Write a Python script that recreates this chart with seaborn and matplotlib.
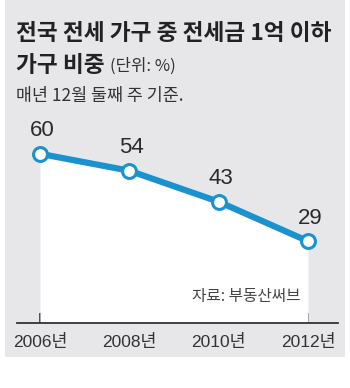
import matplotlib
matplotlib.use("Agg")
import matplotlib.pyplot as plt
import seaborn as sns
import pandas as pd
from matplotlib.patches import Rectangle

years = [2006, 2008, 2010, 2012]
share = [60, 54, 43, 29]
tick_labels = ["2006년", "2008년", "2010년", "2012년"]
title1 = "전국 전세 가구 중 전세금 1억 이하"
title2 = "가구 비중"
unit = "(단위: %)"
subtitle = "매년 12월 둘째 주 기준."
source = "자료: 부동산써브"

sns.set_theme(style="white")
KR = "Noto Sans CJK KR"
NARROW = ["Liberation Sans", KR, "DejaVu Sans"]
plt.rcParams["font.family"] = [KR, "DejaVu Sans"]

W, H = 350, 388
fig = plt.figure(figsize=(W / 100, H / 100), dpi=100, facecolor="white")

gray = "#e7e7e9"
blue = "#1a92cf"
dark = "#2a2a2a"

fig.patches.append(Rectangle((5 / W, (H - 357) / H), 340 / W, 357 / H,
                             transform=fig.transFigure, facecolor=gray,
                             edgecolor="none", zorder=-5))

ax_l, ax_r, ax_b, ax_t = 17, 338, 323, 110
ax = fig.add_axes([ax_l / W, (H - ax_b) / H, (ax_r - ax_l) / W, (ax_b - ax_t) / H])
ax.set_facecolor("none")
ax.set_zorder(2)

df = pd.DataFrame({"year": years, "share": share})
ax.fill_between(df["year"], df["share"], 0, color="white", zorder=1, linewidth=0)
sns.lineplot(data=df, x="year", y="share", ax=ax, color=blue, linewidth=4.5,
             marker="o", markersize=10, markerfacecolor="white",
             markeredgecolor=blue, markeredgewidth=2.2, zorder=3)

px_per_year = (308 - 40) / 6
ax.set_xlim(years[0] - (40 - ax_l) / px_per_year, years[-1] + (ax_r - 308) / px_per_year)
ax.set_ylim(0, (ax_b - ax_t) / 2.82)

for x, v in zip(years, share):
    ax.annotate(str(v), (x, v), xytext=(2, 23), textcoords="offset pixels",
                ha="center", va="center", fontsize=16, color=dark, family=NARROW)

for s in ["left", "right", "top"]:
    ax.spines[s].set_visible(False)
ax.spines["bottom"].set_color("#333333")
ax.spines["bottom"].set_linewidth(1.3)
ax.set_yticks([])
ax.set_xticks(years)
ax.set_xticklabels(tick_labels, family=NARROW, fontsize=12.5, color="#333333")
ax.tick_params(axis="x", direction="in", length=7, width=1.2, color="#333333", pad=8,
               bottom=True)
ax.set_xlabel("")
ax.set_ylabel("")

fig.text(300 / W, (H - 296) / H, source, ha="right", va="center",
         fontsize=11.3, color="#444444", zorder=5)

fig.text(16 / W, (H - 40) / H, title1, ha="left", va="baseline",
         fontsize=16.3, fontweight="bold", color="#222222")
fig.text(16 / W, (H - 72) / H, title2, ha="left", va="baseline",
         fontsize=16.3, fontweight="bold", color="#222222")
fig.text(110 / W, (H - 71) / H, unit, ha="left", va="baseline",
         fontsize=12, color="#333333")
fig.text(16 / W, (H - 101) / H, subtitle, ha="left", va="baseline",
         fontsize=12.5, color="#333333")

fig.savefig("out.png", dpi=100, facecolor="white")
